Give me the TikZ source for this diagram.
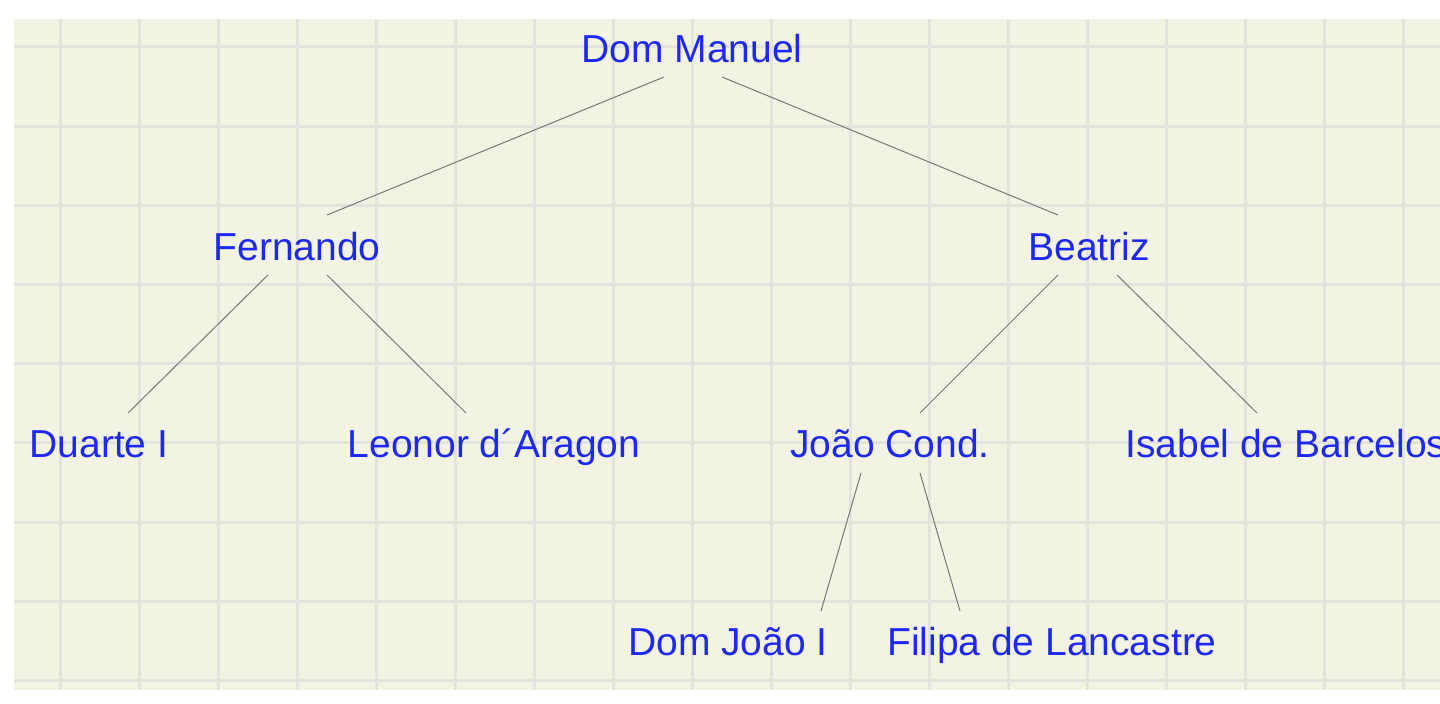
\documentclass[tikz,border=0pt]{standalone}
\usepackage{fontspec}
\newfontfamily\treefont{Liberation Sans}
\definecolor{paper}{RGB}{243,243,227}
\definecolor{gridline}{RGB}{228,228,222}
\definecolor{namecol}{RGB}{30,40,245}
\definecolor{linkcol}{RGB}{120,120,120}

\begin{document}
\begin{tikzpicture}
                \tikzset{x=0.5pt, y=-0.5pt}
                \tikzstyle{person}=[inner sep=0pt, anchor=base, text=namecol, font=\fontsize{19.5}{22}\treefont]
                \tikzstyle{link}=[draw=linkcol, line width=0.5pt]

                % paper
                \useasboundingbox (0,0) rectangle (1440,704);
                \fill[white]        (0,0) rectangle (1440,704);
                \fill[paper]        (14,19) rectangle (1440,690);
                \foreach \gx in {0,...,17}
                    \draw[gridline, line width=1.5pt] (60+79.05*\gx,19) -- (60+79.05*\gx,690);
                \foreach \gy in {0,...,8}
                    \draw[gridline, line width=1.5pt] (14,47+79.2*\gy) -- (1440,47+79.2*\gy);

                % generations
                \draw (692, 63)     node[person]    (dm)    {Dom Manuel};
                \draw (297, 261)    node[person]    (fe)    {Fernando};
                \draw (1089, 261)   node[person]    (be)    {Beatriz};
                \draw (99, 458)     node[person]    (du)    {Duarte I};
                \draw (494, 458)    node[person]    (le)    {Leonor d\textasciiacute Aragon};
                \draw (890, 458)    node[person]    (jo)    {João Cond.};
                \draw (1125, 458)   node[person, anchor=base west] (is) {Isabel de Barcelos};
                \draw (728, 656)    node[person]    (dj)    {Dom João I};
                \draw (1052, 656)   node[person]    (fi)    {Filipa de Lancastre};

                % parent links
                \draw[link] ([shift={(-28,14)}]dm.base) -- ([shift={(30,-46)}]fe.base);
                \draw[link] ([shift={(30,14)}]dm.base)  -- ([shift={(-31,-46)}]be.base);
                \draw[link] ([shift={(-29,14)}]fe.base) -- ([shift={(29,-45)}]du.base);
                \draw[link] ([shift={(30,14)}]fe.base)  -- ([shift={(-28,-45)}]le.base);
                \draw[link] ([shift={(-31,14)}]be.base) -- ([shift={(30,-45)}]jo.base);
                \draw[link] ([shift={(28,14)}]be.base)  -- ([shift={(132,-45)}]is.base west);
                \draw[link] ([shift={(-29,15)}]jo.base) -- ([shift={(93,-45)}]dj.base);
                \draw[link] ([shift={(30,15)}]jo.base)  -- ([shift={(-92,-45)}]fi.base);
            \end{tikzpicture}
\end{document}
